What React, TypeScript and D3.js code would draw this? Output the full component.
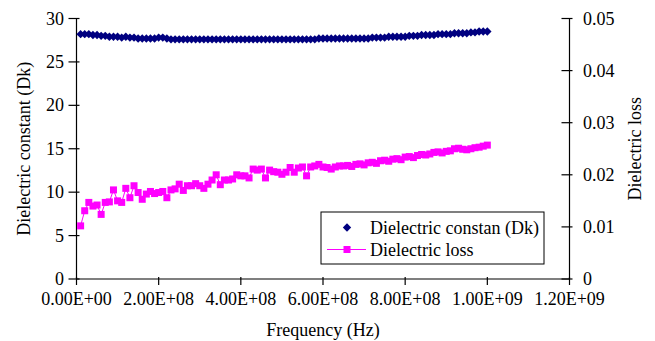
import React from 'react';
import * as d3 from 'd3';

// frequency index: point i sits at i * 1e7 Hz (i = 1..100)
const freqStep = 1e7;

const dkValues = [
  28.2, 28.2, 28.2, 28.1, 28.1, 28.0, 28.0, 27.9, 27.9, 27.9,
  27.8, 27.9, 27.8, 27.8, 27.7, 27.7, 27.7, 27.7, 27.7, 27.8,
  27.8, 27.7, 27.6, 27.6, 27.6, 27.6, 27.6, 27.6, 27.6, 27.6,
  27.6, 27.6, 27.6, 27.6, 27.6, 27.6, 27.6, 27.6, 27.6, 27.6,
  27.6, 27.6, 27.6, 27.6, 27.6, 27.6, 27.6, 27.6, 27.6, 27.6,
  27.6, 27.6, 27.6, 27.6, 27.6, 27.6, 27.6, 27.6, 27.7, 27.7,
  27.7, 27.7, 27.7, 27.7, 27.7, 27.7, 27.7, 27.7, 27.7, 27.7,
  27.7, 27.8, 27.8, 27.8, 27.8, 27.9, 27.9, 27.9, 27.9, 27.9,
  28.0, 28.0, 28.0, 28.1, 28.1, 28.1, 28.1, 28.2, 28.2, 28.2,
  28.2, 28.3, 28.3, 28.3, 28.3, 28.4, 28.4, 28.5, 28.5, 28.5,
];

const lossValues = [
  0.0102, 0.0131, 0.0147, 0.0140, 0.0142, 0.0124, 0.0147, 0.0148, 0.0171, 0.0150,
  0.0147, 0.0174, 0.0156, 0.0179, 0.0166, 0.0153, 0.0163, 0.0168, 0.0164, 0.0166,
  0.0168, 0.0156, 0.0171, 0.0173, 0.0182, 0.0170, 0.0179, 0.0179, 0.0183, 0.0179,
  0.0174, 0.0182, 0.0190, 0.0200, 0.0181, 0.0190, 0.0190, 0.0192, 0.0200, 0.0198,
  0.0198, 0.0194, 0.0211, 0.0209, 0.0211, 0.0194, 0.0209, 0.0206, 0.0205, 0.0201,
  0.0205, 0.0214, 0.0205, 0.0213, 0.0215, 0.0198, 0.0215, 0.0217, 0.0220, 0.0215,
  0.0214, 0.0211, 0.0215, 0.0217, 0.0217, 0.0218, 0.0216, 0.0220, 0.0221, 0.0219,
  0.0223, 0.0224, 0.0222, 0.0227, 0.0228, 0.0226, 0.0230, 0.0231, 0.0229, 0.0234,
  0.0235, 0.0233, 0.0237, 0.0239, 0.0238, 0.0240, 0.0243, 0.0244, 0.0242, 0.0245,
  0.0246, 0.0250, 0.0251, 0.0249, 0.0248, 0.0250, 0.0252, 0.0253, 0.0255, 0.0257,
];

const xTicks = [0, 2e8, 4e8, 6e8, 8e8, 1e9, 1.2e9];
const dkTicks = [0, 5, 10, 15, 20, 25, 30];
const lossTicks = [0, 0.01, 0.02, 0.03, 0.04, 0.05];

const W = 655;
const H = 341;
const font = "'Liberation Serif', 'Times New Roman', Times, serif";

const fmtFreq = (v: number) => {
  if (v === 0) return '0.00E+00';
  const e = Math.floor(Math.log10(v));
  const m = v / Math.pow(10, e);
  return `${m.toFixed(2)}E+${String(e).padStart(2, '0')}`;
};

const App = () => {
  const x = d3.scaleLinear().domain([0, 1.2e9]).range([76.5, 569.5]);
  const yL = d3.scaleLinear().domain([0, 30]).range([279, 18.5]);
  const yR = d3.scaleLinear().domain([0, 0.05]).range([279, 18.5]);

  const dk = dkValues.map((v, i) => ({ f: (i + 1) * freqStep, v }));
  const loss = lossValues.map((v, i) => ({ f: (i + 1) * freqStep, v }));

  const lossLine = d3.line<{ f: number; v: number }>()
    .x(d => x(d.f))
    .y(d => yR(d.v));

  const diamond = (cx: number, cy: number, r = 4.2) =>
    `M${cx},${cy - r}L${cx + r},${cy}L${cx},${cy + r}L${cx - r},${cy}Z`;

  const [x0, x1] = x.range();
  const y0 = yL(0);
  const txt = { fontFamily: font, fontSize: '18px' };

  return (
    <svg width={W} height={H} style={{ position: 'absolute', left: 0, top: 0, background: '#fff' }}>
      {/* axes */}
      <g stroke="#000" strokeWidth={1.2}>
        <line x1={x0} x2={x0} y1={yL(30)} y2={y0} />
        <line x1={x1} x2={x1} y1={yR(0.05)} y2={y0} />
        <line x1={x0} x2={x1} y1={y0} y2={y0} />
        {dkTicks.map(t => (
          <line key={'l' + t} x1={x0 - 8} x2={x0 + 3} y1={yL(t)} y2={yL(t)} />
        ))}
        {lossTicks.map(t => (
          <line key={'r' + t} x1={x1 - 8} x2={x1 + 3} y1={yR(t)} y2={yR(t)} />
        ))}
        {xTicks.map(t => (
          <line key={'x' + t} x1={x(t)} x2={x(t)} y1={y0 - 2} y2={y0 + 6} />
        ))}
      </g>

      <g fill="#000" style={txt}>
        {dkTicks.map(t => (
          <text key={'lt' + t} x={64} y={yL(t)} dy="0.34em" textAnchor="end">{t}</text>
        ))}
        {lossTicks.map(t => (
          <text key={'rt' + t} x={583} y={yR(t)} dy="0.34em" textAnchor="start">{t}</text>
        ))}
        {xTicks.map(t => (
          <text key={'xt' + t} x={x(t)} y={305} textAnchor="middle">{fmtFreq(t)}</text>
        ))}
        <text x={x(6e8)} y={336} textAnchor="middle">Frequency (Hz)</text>
        <text transform={`translate(30,${(yL(0) + yL(30)) / 2}) rotate(-90)`} textAnchor="middle">
          Dielectric constant (Dk)
        </text>
        <text transform={`translate(641,${(yR(0) + yR(0.05)) / 2}) rotate(-90)`} textAnchor="middle">
          Dielectric loss
        </text>
      </g>

      {/* Dk series */}
      <g fill="#000080">
        {dk.map(d => (
          <path key={d.f} d={diamond(x(d.f), yL(d.v))} />
        ))}
      </g>

      {/* loss series */}
      <path d={lossLine(loss) || ''} fill="none" stroke="#ff00ff" strokeWidth={1} />
      <g fill="#ff00ff">
        {loss.map(d => (
          <rect key={d.f} x={x(d.f) - 3.5} y={yR(d.v) - 3.5} width={7} height={7} />
        ))}
      </g>

      {/* legend */}
      <g style={txt}>
        <rect x={321} y={212} width={223} height={52} fill="#fff" stroke="#000" strokeWidth={1} />
        <path d={diamond(347, 227.5)} fill="#000080" />
        <text x={370} y={233.5}>Dielectric constan (Dk)</text>
        <line x1={327} x2={366} y1={249.5} y2={249.5} stroke="#ff00ff" strokeWidth={1} />
        <rect x={343.5} y={246} width={7} height={7} fill="#ff00ff" />
        <text x={370} y={255.5}>Dielectric loss</text>
      </g>
    </svg>
  );
};

export default App;
